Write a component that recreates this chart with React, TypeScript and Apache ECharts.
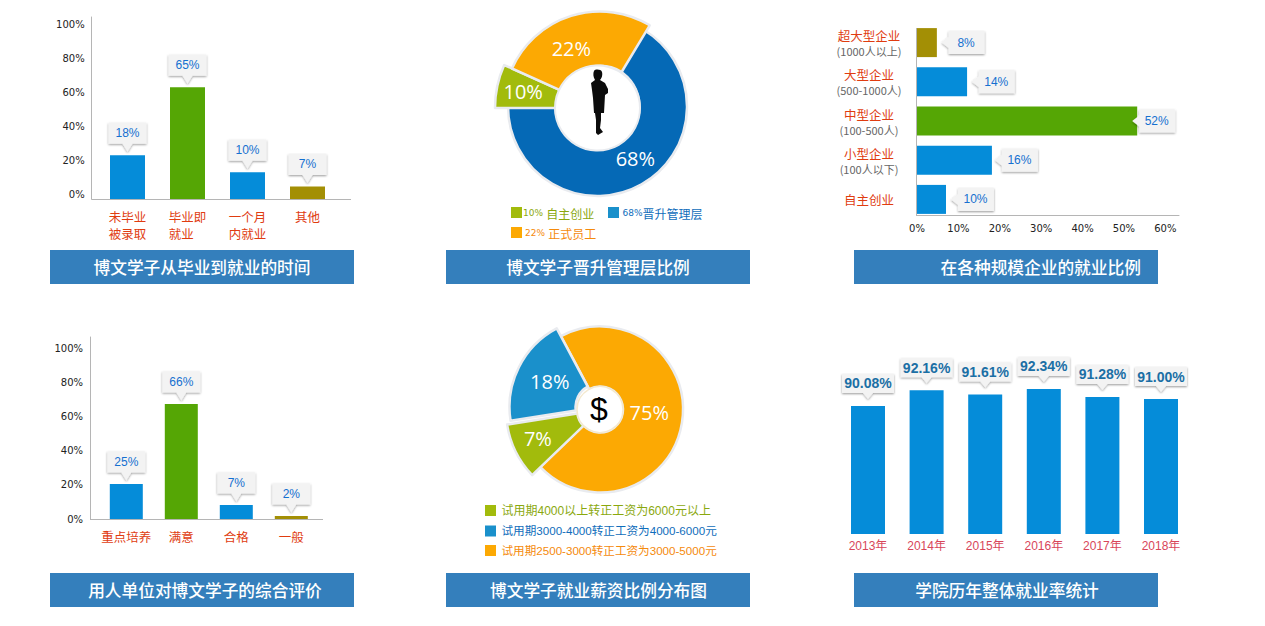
import React, { useEffect, useRef } from "react";
import * as echarts from "echarts";

const CJK = "'Noto Sans CJK SC', sans-serif";
const LATIN = "'Liberation Sans', 'Noto Sans CJK SC', sans-serif";
const TICK = "'DejaVu Sans', sans-serif";

const BLUE = "#058cd9";
const GREEN = "#55a605";
const OLIVE = "#a38f05";
const RED = "#e03c10";

// Panel 1
const timeCategories = ["未毕业\n被录取", "毕业即\n就业　", "一个月\n内就业", "其他"];
const timeBarHeights = [25.9, 65.9, 15.9, 7.6];
const timeLabels = ["18%", "65%", "10%", "7%"];
const timeColors = [BLUE, GREEN, BLUE, OLIVE];
const percentTickStep = 20;

// Panel 2
const promotionNames = ["68%晋升管理层", "10% 自主创业", "22% 正式员工"];
const promotionShares = [66.4, 6.7, 26.9];
const promotionLabels = ["68%", "10%", "22%"];

// Panel 3
const sizeCategories = [
  "超大型企业|(1000人以上)",
  "大型企业|(500-1000人)",
  "中型企业|(100-500人)",
  "小型企业|(100人以下)",
  "自主创业",
];
const sizeBarLengths = [4.8, 12.1, 53.2, 18.1, 7];
const sizeLabels = ["8%", "14%", "52%", "16%", "10%"];
const sizeColors = [OLIVE, BLUE, GREEN, BLUE, BLUE];

// Panel 4
const ratingCategories = ["重点培养", "满意", "合格", "一般"];
const ratingBarHeights = [20.6, 67.6, 8.2, 1.8];
const ratingLabels = ["25%", "66%", "7%", "2%"];
const ratingColors = [BLUE, GREEN, BLUE, OLIVE];

// Panel 5
const salaryNames = [
  "试用期2500-3000转正工资为3000-5000元",
  "试用期4000以上转正工资为6000元以上",
  "试用期3000-4000转正工资为4000-6000元",
];
const salaryShares = [70.6, 9.7, 19.7];
const salaryLabels = ["75%", "7%", "18%"];

// Panel 6
const yearCategories = ["2013年", "2014年", "2015年", "2016年", "2017年", "2018年"];
const yearRates = [90.08, 92.16, 91.61, 92.34, 91.28, 91.0];

// Banners
const bannerTitles = [
  "博文学子从毕业到就业的时间",
  "博文学子晋升管理层比例",
  "在各种规模企业的就业比例",
  "用人单位对博文学子的综合评价",
  "博文学子就业薪资比例分布图",
  "学院历年整体就业率统计",
];

const PERSON_D =
  "M19 11 C20 9 26 9 27 12 C28 16 26 19 25 20 L30 23 L33 29 L33 33 L30 35 L29 53 L26 53 L26 60 L25 68 L28 72 L23 75 L21 73 L21 60 L20 53 L19 53 L18 38 L17 30 L16 23 L20 20 C18 17 18 13 19 11 Z";
echarts.graphic.registerShape("person", echarts.graphic.extendPath(PERSON_D as any, {}) as any);

const CALLOUT_DOWN = "path://M0 0 H38 V21 H24 L19 29 L14 21 H0 Z";
const CALLOUT_WIDE = "path://M0 0 H52 V19 H31 L26 25 L21 19 H0 Z";
const CALLOUT_LEFT = "path://M7 0 H43 V23 H7 V17 L0 11.5 L7 6 Z";
const CALLOUT_FILL = {
  color: "#f3f3f3",
  opacity: 1,
  shadowColor: "rgba(0,0,0,0.4)",
  shadowBlur: 2,
  shadowOffsetY: 1,
};
const AXIS_GREY = "#b5b5b5";
const CALLOUT_TEXT = "#1570d0";

const tickLabel = (limit: number) => (v: number) => (v > limit ? "" : `${v}%`);

function verticalPanel(
  idx: number,
  grid: any,
  max: number,
  axisOffset: number,
  tickAlign: string,
  cats: string[],
  heights: number[],
  labels: string[],
  colors: string[],
  barWidth: number,
) {
  return {
    grid: { ...grid },
    xAxis: {
      type: "category",
      gridIndex: idx,
      data: cats,
      axisLine: { show: false },
      axisTick: { show: false },
      axisLabel: { color: RED, fontFamily: CJK, fontSize: 12.5, lineHeight: 17, margin: 9, interval: 0 },
    },
    yAxis: {
      type: "value",
      gridIndex: idx,
      min: 0,
      max,
      interval: percentTickStep,
      offset: axisOffset,
      splitLine: { show: false },
      axisTick: { show: false },
      axisLine: { show: true, lineStyle: { color: AXIS_GREY } },
      axisLabel: {
        color: "#222",
        fontFamily: TICK,
        fontSize: 10,
        margin: 7,
        verticalAlign: tickAlign,
        formatter: tickLabel(100),
      },
    },
    series: [
      {
        type: "bar",
        xAxisIndex: idx,
        yAxisIndex: idx,
        barWidth,
        data: heights.map((v, i) => ({ value: v, itemStyle: { color: colors[i] } })),
      },
      {
        type: "scatter",
        xAxisIndex: idx,
        yAxisIndex: idx,
        symbol: CALLOUT_DOWN,
        symbolSize: [38, 29],
        symbolOffset: [0, -18],
        itemStyle: CALLOUT_FILL,
        z: 5,
        data: heights,
        label: {
          show: true,
          position: "inside",
          offset: [0, -4],
          color: CALLOUT_TEXT,
          fontFamily: LATIN,
          fontSize: 12,
          formatter: (p: any) => labels[p.dataIndex],
        },
      },
    ],
  };
}

function slicePie(
  name: string[],
  shares: number[],
  labels: string[],
  i: number,
  startAngle: number,
  color: string,
  center: number[],
  radius: number[],
  shift: number[],
) {
  return {
    type: "pie",
    silent: true,
    startAngle,
    clockwise: true,
    center,
    radius,
    avoidLabelOverlap: false,
    labelLine: { show: false },
    labelLayout: { dx: shift[0], dy: shift[1] },
    z: 3,
    data: shares.map((v, k) => ({
      name: name[k],
      value: v,
      itemStyle:
        k === i
          ? { color, borderColor: "#e9ebef", borderWidth: 2.5 }
          : { color: "rgba(0,0,0,0)", borderWidth: 0 },
      label:
        k === i
          ? {
              show: true,
              position: "inside",
              color: "#fff",
              fontFamily: "'Open Sans', sans-serif",
              fontSize: 20,
              formatter: () => labels[k],
            }
          : { show: false },
    })),
  };
}

function buildOption() {
  const p1 = verticalPanel(
    0,
    { left: 97.5, width: 240, top: 17, height: 182.3 },
    107.2,
    5.8,
    "bottom",
    timeCategories,
    timeBarHeights,
    timeLabels,
    timeColors,
    35,
  );
  const p4 = verticalPanel(
    1,
    { left: 98.8, width: 220, top: 337, height: 182 },
    107,
    8.8,
    "middle",
    ratingCategories,
    ratingBarHeights,
    ratingLabels,
    ratingColors,
    33,
  );

  const sizeCalloutGap = [4.7, 4.7, -5, 3, 5];
  const sizePanel = {
    grid: { left: 917, width: 262, top: 23, height: 196 },
    xAxis: {
      type: "value",
      gridIndex: 2,
      min: 0,
      max: 63.3,
      interval: 10,
      offset: -3.3,
      splitLine: { show: false },
      axisTick: { show: false },
      axisLine: { show: true, lineStyle: { color: AXIS_GREY } },
      axisLabel: { color: "#222", fontFamily: TICK, fontSize: 10, margin: 8, formatter: tickLabel(60) },
    },
    yAxis: {
      type: "category",
      gridIndex: 2,
      inverse: true,
      data: sizeCategories,
      axisLine: { show: false },
      axisTick: { show: false },
      axisLabel: {
        margin: 48,
        align: "center",
        interval: 0,
        formatter: (v: string) => {
          const [a, b] = v.split("|");
          return b ? `{a|${a}}\n{b|${b}}` : `{a|${a}}`;
        },
        rich: {
          a: { color: RED, fontFamily: CJK, fontSize: 12.5, lineHeight: 17, align: "center" },
          b: { color: "#666", fontFamily: CJK, fontSize: 11, lineHeight: 14, align: "center" },
        },
      },
    },
    series: [
      {
        type: "bar",
        xAxisIndex: 2,
        yAxisIndex: 2,
        barWidth: 29,
        data: sizeBarLengths.map((v, i) => ({ value: v, itemStyle: { color: sizeColors[i] } })),
      },
      {
        type: "scatter",
        xAxisIndex: 2,
        yAxisIndex: 2,
        symbol: CALLOUT_LEFT,
        symbolSize: [43, 23],
        itemStyle: CALLOUT_FILL,
        z: 5,
        data: sizeBarLengths.map((v, i) => ({
          value: [v, i],
          symbolOffset: [21.5 + sizeCalloutGap[i], 0],
        })),
        label: {
          show: true,
          position: "inside",
          offset: [3, 0],
          color: CALLOUT_TEXT,
          fontFamily: LATIN,
          fontSize: 12,
          formatter: (p: any) => sizeLabels[p.dataIndex],
        },
      },
    ],
  };

  const yearPanel = {
    grid: { left: 838.7, width: 351.6, top: 384, height: 150 },
    xAxis: {
      type: "category",
      gridIndex: 3,
      data: yearCategories,
      axisLine: { show: false },
      axisTick: { show: false },
      axisLabel: { color: "#d8465a", fontFamily: LATIN, fontSize: 12, margin: 6, interval: 0 },
    },
    yAxis: { type: "value", gridIndex: 3, min: 73, max: 93, show: false },
    series: [
      {
        type: "bar",
        xAxisIndex: 3,
        yAxisIndex: 3,
        barWidth: 34,
        itemStyle: { color: BLUE },
        data: yearRates,
      },
      {
        type: "scatter",
        xAxisIndex: 3,
        yAxisIndex: 3,
        symbol: CALLOUT_WIDE,
        symbolSize: [52, 25],
        symbolOffset: [0, -19.5],
        itemStyle: CALLOUT_FILL,
        z: 5,
        data: yearRates,
        label: {
          show: true,
          position: "inside",
          offset: [0, -3],
          color: "#1b6fa5",
          fontFamily: LATIN,
          fontWeight: "bold",
          fontSize: 14,
          formatter: (p: any) => `${yearRates[p.dataIndex].toFixed(2)}%`,
        },
      },
    ],
  };

  const promoStart = 59;
  const promoPies = [
    slicePie(promotionNames, promotionShares, promotionLabels, 0, promoStart, "#0569b6", [597.5, 106.5], [42, 89.5], [4, -8]),
    slicePie(promotionNames, promotionShares, promotionLabels, 1, promoStart, "#a2bb0c", [600, 108], [42, 105], [-2, 0]),
    slicePie(promotionNames, promotionShares, promotionLabels, 2, promoStart, "#fca903", [600, 108], [42, 96.5], [-7, 9]),
  ];
  const salaryStart = 118;
  const salaryPies = [
    slicePie(salaryNames, salaryShares, salaryLabels, 0, salaryStart, "#fca903", [600, 409.5], [23, 83], [-6, -6]),
    slicePie(salaryNames, salaryShares, salaryLabels, 1, salaryStart, "#a2bb0c", [600, 410], [23, 94], [-7, 1]),
    slicePie(salaryNames, salaryShares, salaryLabels, 2, salaryStart, "#1a90cb", [598.5, 407], [23, 89], [4, 1]),
  ];

  const bannerBoxes = [
    { x: 50, y: 250, cx: 202 },
    { x: 446, y: 250, cx: 598 },
    { x: 854, y: 250, cx: 1040.7 },
    { x: 50, y: 573, cx: 205 },
    { x: 446, y: 573, cx: 598.5 },
    { x: 854, y: 573, cx: 1007 },
  ];
  const banners = bannerTitles.flatMap((t, i) => [
    {
      type: "rect",
      z: 10,
      shape: { x: bannerBoxes[i].x, y: bannerBoxes[i].y, width: 304, height: 34 },
      style: { fill: "#347fbc" },
    },
    {
      type: "text",
      z: 11,
      x: bannerBoxes[i].cx,
      y: bannerBoxes[i].y + 17,
      style: {
        text: t,
        fill: "#fff",
        font: `500 16.7px ${CJK}`,
        textAlign: "center",
        textVerticalAlign: "middle",
      },
    },
  ]);

  const swatch = (x: number, y: number, fill: string) => ({
    type: "rect",
    z: 10,
    shape: { x, y, width: 11, height: 11 },
    style: { fill },
  });
  const richLegend = (x: number, y: number, fill: string, pct: string, sep: string, name: string) => ({
    type: "text",
    z: 10,
    x,
    y,
    style: {
      text: `{a|${pct}}${sep}{b|${name}}`,
      fill,
      textVerticalAlign: "middle",
      rich: {
        a: { fill, fontFamily: TICK, fontSize: 9 },
        b: { fill, fontFamily: CJK, fontSize: 12 },
      },
    },
  });
  const plainLegend = (x: number, y: number, fill: string, size: number, text: string) => ({
    type: "text",
    z: 10,
    x,
    y,
    style: { text, fill, font: `${size}px ${LATIN}`, textVerticalAlign: "middle" },
  });

  const graphics: any[] = [
    // axis baselines that run past the category bands
    { type: "line", z: 4, shape: { x1: 91.7, y1: 199.5, x2: 351, y2: 199.5 }, style: { stroke: AXIS_GREY, lineWidth: 1 } },
    { type: "line", z: 4, shape: { x1: 90, y1: 519.5, x2: 323, y2: 519.5 }, style: { stroke: AXIS_GREY, lineWidth: 1 } },
    { type: "line", z: 4, shape: { x1: 916.5, y1: 28, x2: 916.5, y2: 216 }, style: { stroke: AXIS_GREY, lineWidth: 1 } },
    // donut hole and figure
    {
      type: "circle",
      z: 8,
      shape: { cx: 597.5, cy: 108, r: 42.5 },
      style: { fill: "#fff", stroke: "#e9ebef", lineWidth: 2 },
    },
    { type: "person", z: 9, x: 575, y: 60, style: { fill: "#0c0c0c" } },
    // pie hub and dollar sign
    {
      type: "circle",
      z: 8,
      shape: { cx: 600, cy: 409.5, r: 23 },
      style: { fill: "#fff", stroke: "#f4e9cf", lineWidth: 1.5 },
    },
    {
      type: "text",
      z: 9,
      x: 599,
      y: 409,
      style: { text: "$", fill: "#000", font: `32px ${LATIN}`, textAlign: "center", textVerticalAlign: "middle" },
    },
    // promotion legend
    swatch(511, 207, "#a2bb0c"),
    richLegend(523, 213, "#8aa80e", "10%", " ", "自主创业"),
    swatch(608, 207, "#1a90cb"),
    richLegend(622.5, 213, "#0f6dbb", "68%", "", "晋升管理层"),
    swatch(511, 227, "#fca903"),
    richLegend(525, 233, "#f58a0c", "22%", " ", "正式员工"),
    // salary legend
    swatch(485, 505, "#a2bb0c"),
    plainLegend(501.5, 510.5, "#8aa80e", 12, salaryNames[1]),
    swatch(485, 525.5, "#1a90cb"),
    plainLegend(501.5, 530.5, "#0f6dbb", 11.6, salaryNames[2]),
    swatch(485, 545, "#fca903"),
    plainLegend(501.5, 550.5, "#f58a0c", 11.6, salaryNames[0]),
    ...banners,
  ];

  return {
    animation: false,
    backgroundColor: "#fff",
    grid: [p1.grid, p4.grid, sizePanel.grid, yearPanel.grid],
    xAxis: [p1.xAxis, p4.xAxis, sizePanel.xAxis, yearPanel.xAxis],
    yAxis: [p1.yAxis, p4.yAxis, sizePanel.yAxis, yearPanel.yAxis],
    series: [...p1.series, ...p4.series, ...sizePanel.series, ...yearPanel.series, ...promoPies, ...salaryPies],
    graphic: { elements: graphics },
  };
}

export default function App() {
  const ref = useRef<HTMLDivElement>(null);
  useEffect(() => {
    document.body.style.margin = "0";
    const chart = echarts.init(ref.current!, undefined, { renderer: "svg" });
    chart.setOption(buildOption() as any);
    return () => chart.dispose();
  }, []);
  return <div ref={ref} style={{ width: 1265, height: 626 }} />;
}
